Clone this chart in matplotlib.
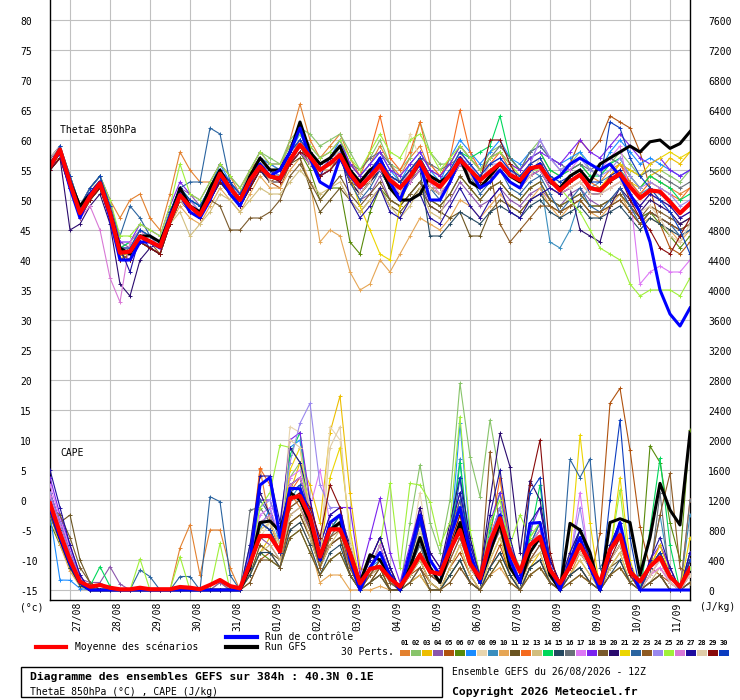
import matplotlib
matplotlib.use("Agg")
import matplotlib.pyplot as plt
import numpy as np
from matplotlib.lines import Line2D
from matplotlib.patches import Rectangle
from matplotlib.transforms import blended_transform_factory

W, H = 740, 700
MONO = "DejaVu Sans Mono"

# 6-hourly steps from 26/08 12Z to 11/09 12Z (384h)
steps = np.arange(65)
day_steps = np.arange(2, 64, 4)
day_labels = ["27/08", "28/08", "29/08", "30/08", "31/08", "01/09", "02/09", "03/09",
              "04/09", "05/09", "06/09", "07/09", "08/09", "09/09", "10/09", "11/09"]
theta_ticks = list(range(-15, 81, 5))
cape_ticks = list(range(0, 7601, 400))

member_colors = ["#e3812f", "#88c46a", "#edbe00", "#8b55ab", "#b0520e", "#588a0a",
                 "#1a8cff", "#e8d5ae", "#3a8ebe", "#e6a655", "#6a5420", "#f56a1e",
                 "#d2be7e", "#00d85a", "#244860", "#687078", "#dd78f5", "#7a22ee",
                 "#7a5a2c", "#2a0a6e", "#ecd500", "#2a64a0", "#8e5a22", "#9a88ee",
                 "#a0f03a", "#d878d6", "#1e0c9e", "#e0cca8", "#880a0a", "#0a3cc0"]

# ThetaE 850hPa (degC)
theta_mean = [55.6, 58.4, 52.8, 47.8, 50.6, 52.8, 47.8, 41.2, 41.4, 43.9,
              43.1, 42.2, 46.7, 50.8, 48.9, 47.5, 50.6, 54.4, 52.0, 50.0,
              53.3, 55.6, 53.9, 53.6, 56.7, 59.2, 57.2, 55.0, 56.1, 57.5,
              54.4, 52.2, 53.9, 55.8, 53.3, 52.0, 53.9, 56.4, 53.3, 52.2,
              54.2, 56.7, 55.0, 53.3, 54.7, 56.1, 54.2, 53.3, 55.3, 55.6,
              53.3, 51.6, 53.1, 54.2, 52.0, 51.6, 53.3, 54.4, 52.2, 50.3,
              51.6, 51.4, 49.7, 47.8, 49.4]
theta_ctrl = [56, 58, 52, 47, 51, 53, 47, 40, 40, 43, 43, 42, 47, 51, 48, 47, 50, 54, 51, 49,
              53, 56, 54, 55, 58, 62, 57, 53, 52, 57, 54, 52, 54, 57, 53, 50, 54, 56, 50, 50,
              53, 57, 55, 52, 53, 55, 53, 52, 55, 56, 53, 54, 56, 57, 56, 55, 56, 54, 51, 48,
              43, 35, 31, 29, 32]
theta_gfs = [56, 58, 53, 49, 51, 53, 48, 42, 41, 44, 44, 43, 47, 52, 49, 48, 52, 55, 52, 50,
             54, 57, 55, 55, 58, 63, 58, 56, 57, 59, 55, 53, 55, 56, 52, 50, 50, 51, 54, 53,
             54, 57, 53, 52, 54, 56, 54, 53, 55, 56, 53, 52, 54, 55, 53, 56, 57, 58, 59, 58,
             59.7, 60, 58.6, 59.4, 61.4]
theta_perts = [
    [57, 59, 54, 49, 52, 54, 50, 47, 50, 51, 47, 45, 51, 58, 55, 53, 53, 56, 54, 51, 55, 57, 56, 55, 60, 66, 60, 57, 59, 61, 57, 54, 56, 59, 56, 54, 57, 59, 55, 54, 56, 59, 57, 55, 57, 58, 56, 55, 57, 58, 55, 54, 55, 56, 54, 53, 55, 56, 54, 52, 54, 53, 52, 51, 52],
    [55, 58, 52, 48, 50, 53, 48, 42, 43, 45, 44, 43, 48, 52, 50, 49, 52, 55, 53, 51, 55, 58, 57, 56, 60, 62, 61, 59, 60, 61, 58, 55, 57, 60, 56, 55, 57, 63, 58, 56, 56, 59, 57, 55, 58, 59, 57, 55, 58, 60, 57, 55, 56, 58, 55, 54, 56, 58, 56, 54, 55, 55, 54, 53, 55],
    [56, 57, 53, 49, 51, 52, 47, 40, 42, 43, 42, 41, 46, 50, 48, 47, 50, 53, 51, 49, 52, 55, 53, 53, 56, 58, 56, 54, 55, 57, 53, 51, 53, 55, 52, 51, 53, 55, 52, 51, 53, 56, 54, 52, 54, 55, 53, 52, 54, 55, 52, 51, 52, 53, 51, 51, 53, 55, 53, 52, 54, 55, 57, 56, 58],
    [57, 58, 54, 49, 52, 54, 49, 43, 42, 45, 44, 43, 48, 52, 51, 49, 52, 55, 53, 51, 54, 57, 55, 55, 58, 60, 58, 56, 57, 59, 53, 50, 51, 54, 50, 49, 51, 53, 49, 48, 50, 53, 51, 49, 50, 52, 50, 49, 51, 52, 50, 49, 51, 52, 50, 49, 50, 52, 49, 47, 48, 47, 46, 45, 46],
    [55, 58, 52, 47, 50, 52, 47, 41, 40, 43, 42, 41, 46, 50, 48, 47, 50, 53, 51, 49, 52, 55, 53, 52, 56, 58, 56, 54, 55, 57, 53, 51, 53, 55, 52, 51, 53, 55, 52, 51, 53, 56, 54, 52, 54, 55, 53, 52, 54, 55, 53, 54, 56, 60, 58, 60, 64, 63, 62, 58, 52, 46, 42, 41, 43],
    [56, 58, 53, 48, 51, 53, 48, 42, 42, 45, 44, 43, 47, 51, 49, 48, 51, 54, 52, 50, 53, 56, 54, 53, 56, 58, 55, 50, 52, 52, 43, 41, 48, 52, 50, 49, 51, 53, 50, 49, 51, 54, 52, 50, 52, 53, 51, 50, 52, 53, 50, 49, 50, 51, 49, 49, 50, 51, 49, 47, 48, 46, 44, 42, 44],
    [56, 59, 54, 49, 52, 54, 49, 42, 42, 45, 44, 43, 48, 52, 50, 49, 52, 56, 53, 51, 54, 57, 56, 55, 58, 61, 58, 56, 57, 60, 56, 54, 56, 58, 55, 53, 56, 58, 55, 53, 57, 60, 58, 56, 58, 60, 57, 56, 58, 59, 57, 56, 57, 58, 56, 55, 58, 60, 58, 56, 57, 56, 55, 54, 55],
    [55, 58, 53, 48, 51, 52, 48, 42, 41, 44, 43, 42, 47, 51, 49, 48, 51, 55, 52, 50, 53, 56, 54, 54, 57, 59, 57, 55, 56, 58, 55, 53, 55, 57, 54, 53, 61, 57, 54, 52, 54, 57, 55, 53, 55, 56, 54, 53, 55, 56, 53, 52, 53, 54, 52, 52, 53, 54, 52, 50, 52, 50, 49, 47, 48],
    [55, 58, 52, 48, 51, 53, 47, 40, 40, 43, 42, 41, 46, 50, 48, 47, 50, 53, 51, 49, 52, 55, 53, 53, 56, 58, 56, 54, 55, 57, 55, 53, 55, 57, 54, 53, 55, 57, 54, 53, 55, 58, 56, 54, 56, 57, 55, 54, 55, 54, 43, 42, 45, 50, 52, 53, 54, 55, 53, 51, 52, 51, 50, 48, 49],
    [55, 57, 52, 48, 50, 52, 47, 40, 40, 43, 42, 41, 46, 49, 47, 46, 49, 52, 50, 48, 51, 54, 52, 52, 55, 57, 53, 43, 45, 44, 38, 35, 36, 40, 38, 41, 44, 47, 46, 45, 47, 50, 49, 47, 49, 51, 49, 48, 50, 52, 49, 47, 49, 50, 48, 47, 49, 51, 48, 46, 47, 46, 45, 43, 45],
    [55, 57, 52, 47, 50, 52, 47, 41, 40, 43, 42, 41, 46, 50, 48, 47, 50, 53, 51, 49, 52, 55, 53, 53, 56, 57, 52, 48, 50, 52, 50, 48, 50, 52, 49, 48, 50, 52, 49, 48, 47, 48, 44, 44, 48, 50, 49, 48, 50, 51, 49, 48, 49, 50, 48, 48, 49, 50, 48, 46, 48, 47, 46, 45, 46],
    [55, 58, 52, 47, 50, 52, 47, 40, 41, 43, 42, 41, 46, 50, 48, 47, 50, 54, 51, 49, 53, 56, 54, 53, 57, 60, 58, 56, 57, 59, 56, 54, 58, 64, 57, 55, 58, 63, 56, 54, 57, 65, 58, 55, 56, 58, 55, 54, 56, 57, 54, 52, 54, 55, 53, 52, 54, 56, 53, 51, 53, 52, 51, 50, 52],
    [56, 58, 53, 48, 51, 53, 48, 42, 42, 44, 43, 42, 46, 48, 44, 46, 48, 51, 50, 48, 50, 52, 51, 51, 53, 55, 53, 51, 52, 53, 50, 48, 50, 52, 49, 47, 49, 52, 48, 47, 53, 56, 54, 52, 54, 55, 53, 52, 54, 55, 52, 51, 52, 53, 51, 51, 52, 53, 51, 49, 51, 50, 49, 48, 49],
    [57, 59, 54, 49, 52, 54, 49, 42, 43, 45, 44, 43, 48, 52, 50, 49, 52, 55, 53, 51, 54, 57, 55, 55, 58, 60, 58, 56, 57, 59, 55, 53, 55, 57, 54, 53, 55, 57, 54, 53, 55, 58, 57, 58, 59, 64, 57, 55, 57, 58, 55, 54, 55, 56, 54, 54, 56, 57, 54, 52, 54, 53, 52, 50, 51],
    [55, 57, 52, 48, 50, 52, 47, 41, 41, 43, 42, 41, 46, 50, 48, 47, 50, 53, 51, 49, 52, 55, 53, 53, 56, 58, 56, 54, 55, 57, 53, 51, 53, 55, 52, 51, 53, 55, 44, 44, 46, 48, 47, 46, 48, 49, 48, 47, 49, 50, 48, 47, 48, 49, 47, 47, 48, 49, 47, 45, 47, 46, 45, 44, 45],
    [56, 58, 54, 49, 51, 53, 48, 41, 42, 44, 44, 43, 48, 51, 50, 48, 51, 55, 52, 50, 54, 56, 55, 54, 58, 60, 57, 56, 57, 58, 56, 55, 57, 58, 56, 53, 54, 57, 56, 55, 56, 57, 54, 54, 57, 59, 57, 55, 58, 59, 57, 56, 55, 56, 55, 56, 57, 56, 55, 54, 55, 54, 53, 52, 53],
    [56, 58, 53, 48, 51, 53, 49, 42, 41, 44, 43, 42, 47, 51, 50, 48, 51, 55, 53, 51, 54, 57, 55, 55, 58, 60, 58, 56, 57, 58, 55, 53, 55, 57, 54, 52, 55, 57, 54, 52, 55, 58, 56, 54, 56, 57, 55, 54, 56, 60, 57, 55, 55, 57, 56, 55, 57, 59, 51, 36, 38, 39, 38, 38, 40],
    [57, 59, 54, 49, 52, 54, 50, 43, 43, 46, 45, 44, 49, 53, 51, 50, 53, 56, 54, 52, 55, 58, 56, 56, 59, 62, 59, 57, 58, 60, 56, 54, 56, 58, 55, 54, 56, 58, 55, 54, 56, 59, 57, 55, 57, 58, 56, 55, 57, 58, 57, 56, 58, 60, 58, 57, 59, 61, 59, 57, 56, 57, 55, 54, 55],
    [55, 57, 52, 47, 50, 52, 47, 40, 40, 43, 42, 41, 46, 50, 48, 47, 50, 49, 45, 45, 47, 47, 48, 50, 54, 56, 53, 50, 52, 54, 51, 49, 51, 53, 50, 49, 51, 53, 50, 49, 51, 54, 52, 50, 52, 53, 51, 50, 52, 53, 50, 49, 50, 51, 49, 49, 50, 51, 49, 47, 49, 48, 47, 46, 47],
    [55, 57, 45, 46, 49, 51, 46, 36, 34, 40, 42, 41, 46, 50, 48, 47, 50, 53, 51, 49, 52, 55, 53, 53, 56, 58, 56, 54, 55, 57, 53, 51, 53, 55, 52, 51, 53, 55, 52, 51, 53, 56, 54, 52, 54, 55, 53, 52, 54, 55, 52, 51, 52, 45, 44, 43, 49, 52, 50, 48, 50, 49, 48, 46, 47],
    [56, 58, 53, 48, 51, 53, 48, 41, 41, 44, 43, 42, 47, 51, 49, 48, 51, 54, 52, 50, 53, 56, 54, 54, 57, 59, 57, 55, 56, 58, 54, 49, 45, 41, 40, 49, 54, 56, 53, 52, 54, 57, 55, 53, 55, 56, 54, 53, 55, 56, 53, 52, 53, 54, 52, 52, 54, 56, 55, 54, 56, 57, 58, 57, 58],
    [55, 58, 53, 48, 52, 54, 49, 44, 49, 47, 44, 42, 47, 52, 53, 53, 62, 61, 53, 50, 54, 56, 55, 54, 57, 59, 56, 54, 55, 57, 53, 50, 52, 55, 52, 50, 53, 55, 52, 50, 53, 56, 54, 51, 53, 55, 52, 51, 53, 54, 51, 48, 50, 52, 49, 48, 50, 52, 49, 46, 48, 47, 46, 44, 45],
    [55, 58, 52, 47, 50, 53, 47, 40, 41, 43, 43, 41, 46, 50, 49, 47, 50, 54, 51, 50, 52, 56, 53, 54, 56, 59, 56, 55, 55, 58, 53, 52, 53, 56, 52, 52, 53, 56, 52, 52, 54, 57, 55, 53, 55, 46, 43, 45, 47, 49, 49, 48, 49, 50, 48, 48, 49, 50, 48, 46, 48, 47, 46, 45, 46],
    [56, 58, 53, 49, 51, 53, 48, 42, 42, 44, 44, 42, 47, 51, 50, 48, 51, 55, 52, 51, 54, 56, 55, 54, 58, 59, 57, 55, 57, 58, 55, 52, 55, 56, 54, 52, 55, 56, 54, 52, 55, 57, 56, 53, 56, 56, 55, 53, 56, 60, 57, 55, 56, 57, 55, 54, 55, 57, 54, 52, 53, 52, 51, 49, 50],
    [56, 59, 54, 49, 52, 54, 50, 44, 44, 46, 45, 44, 49, 56, 51, 50, 53, 56, 54, 52, 55, 58, 56, 56, 59, 61, 59, 57, 58, 60, 57, 55, 58, 61, 58, 57, 60, 61, 58, 55, 57, 59, 57, 55, 57, 58, 56, 54, 55, 55, 53, 52, 50, 48, 45, 42, 41, 40, 36, 34, 35, 35, 35, 34, 37],
    [55, 58, 52, 47, 49, 45, 37, 33, 43, 45, 43, 42, 47, 51, 49, 48, 51, 54, 52, 50, 53, 55, 54, 53, 56, 58, 56, 54, 55, 57, 54, 52, 54, 55, 53, 51, 53, 55, 53, 51, 53, 56, 54, 52, 54, 55, 53, 52, 54, 55, 52, 51, 52, 53, 51, 51, 52, 53, 51, 49, 51, 50, 49, 47, 48],
    [55, 58, 53, 48, 51, 53, 48, 42, 38, 44, 42, 43, 48, 52, 48, 47, 52, 55, 53, 49, 52, 57, 55, 53, 58, 60, 56, 54, 57, 59, 50, 47, 49, 52, 48, 47, 50, 51, 47, 46, 49, 52, 49, 47, 50, 52, 48, 47, 50, 51, 52, 51, 54, 55, 51, 51, 54, 55, 51, 49, 51, 50, 49, 47, 48],
    [57, 59, 53, 49, 52, 53, 49, 42, 42, 45, 44, 43, 48, 50, 48, 47, 52, 55, 51, 50, 54, 57, 53, 53, 58, 60, 56, 55, 55, 59, 55, 51, 53, 57, 54, 51, 55, 57, 52, 51, 55, 58, 54, 52, 56, 55, 53, 52, 54, 57, 54, 53, 52, 53, 51, 51, 52, 53, 51, 48, 49, 47, 44, 43, 46],
    [55, 57, 52, 48, 50, 52, 47, 40, 40, 43, 42, 41, 46, 51, 48, 47, 50, 53, 52, 49, 52, 55, 54, 53, 56, 58, 57, 54, 55, 57, 55, 53, 55, 57, 54, 53, 55, 57, 54, 53, 54, 57, 55, 53, 60, 60, 56, 53, 55, 56, 53, 52, 53, 54, 52, 52, 53, 54, 50, 47, 45, 42, 41, 44, 47],
    [56, 59, 54, 49, 52, 54, 49, 42, 42, 45, 44, 43, 48, 52, 50, 49, 52, 55, 53, 51, 54, 57, 55, 55, 58, 60, 58, 56, 57, 59, 55, 53, 55, 57, 54, 53, 55, 57, 54, 53, 55, 58, 56, 54, 56, 57, 55, 54, 56, 57, 54, 53, 54, 55, 53, 53, 63, 62, 57, 54, 52, 50, 48, 45, 41],
]

# CAPE (J/kg)
cape_mean = [1156, 756, 400, 111, 44, 67, 30, 9, 9, 30, 10, 10, 10, 40, 30, 10, 67, 133, 53, 22,
             356, 720, 720, 511, 1222, 1253, 978, 444, 809, 809, 489, 89, 280, 311, 156, 44, 244, 467, 244, 213,
             533, 800, 356, 156, 644, 956, 511, 244, 600, 711, 267, 89, 311, 600, 356, 89, 533, 733, 244, 111,
             311, 436, 178, 44, 289]
cape_ctrl = [1100, 700, 350, 100, 0, 0, 0, 0, 0, 0, 0, 0, 0, 0, 0, 0, 0, 0, 0, 0,
             400, 1400, 1500, 700, 1356, 1350, 1000, 400, 900, 1000, 400, 0, 300, 500, 200, 0, 500, 1000, 400, 200,
             700, 1100, 500, 100, 600, 1000, 400, 100, 889, 900, 300, 0, 400, 700, 300, 0, 500, 900, 300, 0,
             0, 0, 0, 0, 0]
cape_gfs = [1100, 700, 350, 100, 0, 0, 0, 0, 0, 0, 0, 0, 0, 0, 0, 0, 0, 0, 0, 0,
            300, 900, 920, 780, 1300, 1200, 900, 400, 800, 900, 500, 100, 470, 400, 200, 0, 300, 700, 300, 100,
            500, 900, 400, 100, 500, 900, 300, 100, 500, 700, 200, 0, 889, 800, 500, 0, 900, 950, 900, 200,
            700, 1422, 1067, 867, 2100]
cape_perts = [
    [1200, 800, 450, 150, 20, 0, 0, 0, 0, 0, 0, 0, 0, 560, 870, 200, 800, 800, 300, 0, 300, 1620, 900, 500, 1300, 1100, 800, 300, 700, 900, 300, 0, 200, 400, 100, 0, 300, 600, 200, 100, 500, 900, 300, 100, 600, 800, 300, 100, 500, 700, 200, 0, 200, 500, 300, 0, 400, 600, 200, 0, 200, 300, 100, 0, 300],
    [1100, 700, 350, 80, 0, 0, 0, 0, 0, 0, 0, 0, 0, 0, 0, 0, 0, 100, 0, 0, 400, 900, 1000, 700, 1500, 1700, 1100, 300, 900, 800, 400, 0, 300, 600, 200, 0, 900, 1667, 900, 500, 1200, 2756, 1778, 1244, 2267, 1500, 600, 300, 700, 900, 300, 0, 400, 800, 400, 0, 500, 800, 200, 0, 300, 500, 200, 0, 400],
    [1000, 650, 300, 60, 0, 0, 0, 0, 0, 0, 0, 0, 0, 0, 0, 0, 0, 0, 0, 0, 200, 500, 700, 500, 1300, 1700, 1400, 900, 2100, 2587, 1289, 300, 200, 300, 0, 0, 200, 400, 100, 0, 300, 600, 200, 0, 400, 700, 200, 0, 300, 500, 100, 0, 200, 400, 200, 0, 300, 500, 100, 0, 100, 200, 0, 0, 200],
    [1300, 900, 500, 150, 100, 100, 311, 80, 0, 0, 0, 0, 0, 0, 0, 0, 0, 100, 0, 0, 300, 700, 600, 400, 1000, 1100, 800, 400, 600, 700, 300, 50, 200, 300, 100, 0, 200, 500, 200, 100, 400, 700, 300, 100, 500, 800, 400, 100, 400, 600, 200, 0, 300, 500, 300, 0, 400, 600, 200, 0, 200, 400, 100, 0, 200],
    [1100, 750, 400, 100, 0, 0, 0, 0, 0, 0, 0, 0, 0, 0, 0, 0, 0, 0, 0, 0, 100, 400, 500, 300, 900, 1000, 700, 300, 600, 700, 200, 0, 100, 300, 0, 0, 200, 300, 100, 0, 300, 500, 200, 0, 300, 600, 200, 0, 300, 400, 100, 0, 200, 300, 100, 756, 2489, 2689, 1867, 844, 300, 200, 100, 0, 100],
    [900, 600, 300, 50, 0, 0, 0, 0, 0, 0, 0, 0, 0, 0, 0, 0, 0, 0, 0, 0, 200, 500, 400, 300, 700, 800, 500, 200, 400, 500, 200, 0, 100, 200, 0, 0, 100, 200, 0, 0, 200, 400, 100, 0, 200, 400, 100, 0, 200, 300, 100, 0, 100, 200, 100, 0, 200, 300, 100, 200, 1920, 1700, 900, 400, 2133],
    [1000, 133, 130, 20, 0, 0, 0, 0, 0, 0, 0, 0, 0, 0, 0, 0, 0, 0, 0, 0, 300, 800, 1100, 600, 1900, 2000, 900, 400, 800, 900, 400, 0, 300, 400, 100, 0, 300, 600, 300, 100, 600, 2222, 700, 100, 700, 1000, 400, 100, 600, 800, 300, 0, 300, 600, 300, 0, 500, 700, 200, 0, 300, 500, 200, 0, 300],
    [1200, 800, 400, 120, 0, 0, 0, 0, 0, 0, 0, 0, 0, 0, 0, 0, 0, 0, 0, 0, 400, 700, 900, 600, 2178, 2100, 1200, 500, 2178, 2000, 700, 100, 300, 500, 200, 0, 500, 1300, 400, 200, 700, 1000, 400, 100, 600, 900, 400, 100, 500, 700, 200, 0, 300, 500, 300, 0, 400, 600, 200, 0, 200, 300, 100, 0, 200],
    [1100, 700, 350, 100, 0, 0, 0, 0, 0, 0, 0, 0, 0, 0, 0, 0, 0, 0, 0, 0, 300, 900, 800, 500, 1200, 1400, 1000, 400, 800, 1000, 400, 0, 200, 400, 100, 0, 300, 800, 400, 200, 700, 1750, 500, 100, 600, 1000, 400, 100, 600, 900, 300, 0, 500, 800, 400, 0, 500, 800, 200, 0, 300, 1000, 200, 0, 1000],
    [1000, 600, 250, 50, 0, 0, 0, 0, 0, 0, 0, 0, 0, 0, 0, 0, 0, 0, 0, 0, 200, 600, 500, 300, 800, 900, 600, 100, 200, 200, 0, 0, 0, 50, 0, 0, 100, 200, 0, 0, 100, 300, 100, 0, 200, 300, 100, 0, 200, 300, 100, 0, 100, 200, 100, 0, 200, 300, 100, 0, 100, 200, 0, 0, 100],
    [1100, 900, 1000, 400, 100, 0, 0, 0, 0, 0, 0, 0, 0, 0, 0, 0, 0, 0, 0, 0, 200, 600, 500, 400, 900, 1000, 700, 300, 600, 700, 200, 0, 100, 300, 0, 0, 200, 400, 100, 0, 200, 400, 100, 0, 300, 500, 200, 0, 300, 400, 100, 0, 200, 300, 100, 0, 300, 400, 100, 0, 100, 200, 0, 0, 100],
    [1200, 850, 450, 130, 0, 0, 0, 0, 0, 0, 0, 0, 0, 0, 0, 0, 0, 0, 0, 0, 500, 1622, 1400, 700, 1300, 1500, 1000, 500, 900, 1000, 500, 100, 400, 700, 300, 0, 400, 1000, 400, 200, 800, 1200, 500, 100, 700, 1500, 500, 200, 600, 800, 300, 0, 400, 700, 300, 0, 500, 800, 300, 0, 300, 600, 300, 0, 1200],
    [1000, 700, 350, 80, 0, 0, 0, 0, 0, 0, 0, 0, 0, 0, 0, 0, 0, 0, 0, 0, 200, 500, 600, 400, 1000, 1100, 700, 300, 600, 800, 300, 0, 200, 300, 100, 0, 200, 400, 100, 0, 300, 600, 200, 0, 400, 700, 300, 0, 400, 500, 100, 0, 200, 400, 200, 0, 300, 500, 100, 0, 100, 300, 100, 0, 200],
    [1100, 750, 400, 120, 50, 311, 50, 0, 0, 0, 0, 0, 0, 0, 0, 0, 0, 0, 0, 0, 300, 900, 800, 500, 1800, 2100, 1000, 400, 800, 1000, 400, 0, 300, 600, 200, 0, 500, 1000, 400, 200, 600, 1700, 500, 100, 800, 1300, 500, 100, 700, 1400, 300, 0, 400, 800, 400, 0, 600, 900, 300, 0, 800, 1756, 600, 0, 500],
    [1000, 650, 300, 60, 0, 0, 0, 0, 0, 0, 0, 0, 0, 0, 0, 0, 0, 0, 0, 0, 200, 500, 500, 300, 800, 900, 600, 200, 500, 600, 200, 0, 100, 200, 0, 0, 100, 300, 0, 0, 200, 400, 100, 0, 300, 500, 200, 0, 300, 400, 100, 0, 200, 300, 100, 0, 200, 400, 100, 0, 100, 200, 0, 0, 100],
    [1050, 700, 350, 90, 0, 0, 0, 0, 0, 0, 0, 0, 0, 0, 0, 0, 0, 0, 0, 0, 1067, 1100, 900, 600, 1100, 1200, 900, 400, 700, 900, 400, 0, 200, 400, 100, 0, 300, 600, 200, 100, 500, 900, 300, 100, 500, 800, 300, 100, 500, 700, 200, 0, 300, 500, 300, 0, 400, 600, 200, 0, 200, 1300, 100, 0, 1200],
    [1400, 950, 550, 180, 0, 0, 0, 0, 0, 0, 0, 0, 0, 0, 0, 0, 0, 0, 0, 0, 400, 1000, 1100, 700, 1500, 1600, 1100, 1600, 900, 1000, 500, 100, 300, 600, 200, 0, 400, 900, 400, 200, 700, 1100, 500, 100, 700, 1100, 500, 100, 600, 800, 300, 0, 400, 1300, 300, 0, 500, 700, 200, 0, 200, 300, 100, 0, 200],
    [1500, 1000, 600, 200, 0, 0, 0, 0, 0, 0, 0, 0, 0, 0, 0, 0, 0, 0, 0, 0, 500, 1200, 1200, 800, 2000, 2100, 1200, 600, 1000, 1100, 1100, 200, 700, 1222, 500, 100, 600, 1100, 500, 300, 800, 1300, 600, 200, 900, 1300, 600, 200, 800, 1100, 400, 100, 500, 800, 400, 0, 600, 900, 300, 0, 400, 600, 300, 0, 500],
    [1100, 1000, 700, 300, 100, 0, 0, 0, 0, 0, 0, 0, 0, 0, 0, 0, 0, 0, 0, 0, 100, 400, 400, 300, 700, 800, 500, 200, 400, 500, 200, 0, 100, 200, 0, 0, 100, 300, 0, 0, 100, 300, 100, 0, 200, 400, 100, 0, 200, 300, 100, 0, 100, 200, 100, 0, 200, 300, 100, 0, 100, 200, 0, 0, 100],
    [1300, 900, 500, 150, 0, 0, 0, 0, 0, 0, 0, 0, 0, 0, 0, 0, 0, 0, 0, 0, 400, 1300, 1000, 700, 1400, 1500, 1100, 500, 900, 1000, 600, 100, 400, 700, 300, 0, 500, 1100, 500, 300, 900, 1500, 700, 200, 1200, 2089, 1644, 500, 1460, 1200, 400, 100, 400, 800, 400, 0, 500, 800, 300, 0, 300, 500, 200, 0, 400],
    [1200, 800, 450, 140, 0, 0, 0, 0, 0, 0, 0, 0, 0, 0, 0, 0, 0, 0, 0, 0, 300, 800, 900, 600, 1600, 1900, 1000, 400, 1500, 1900, 800, 100, 300, 500, 200, 0, 400, 800, 300, 100, 600, 1000, 400, 100, 600, 1000, 400, 100, 600, 800, 300, 0, 500, 2067, 900, 0, 500, 1500, 400, 0, 300, 600, 200, 0, 700],
    [1200, 800, 450, 130, 0, 0, 0, 0, 0, 267, 178, 0, 0, 180, 180, 0, 1244, 1178, 200, 0, 600, 1200, 1000, 700, 1400, 1500, 1000, 500, 800, 1000, 400, 0, 300, 500, 200, 0, 400, 900, 400, 200, 700, 1200, 500, 100, 700, 1100, 500, 100, 600, 900, 300, 0, 1742, 1500, 1750, 300, 500, 800, 300, 0, 300, 500, 200, 0, 400],
    [1000, 700, 350, 100, 0, 0, 0, 0, 0, 0, 0, 0, 0, 0, 0, 0, 0, 0, 0, 0, 300, 700, 700, 500, 1100, 1200, 800, 300, 700, 800, 300, 0, 200, 400, 100, 0, 300, 500, 200, 100, 400, 700, 300, 100, 1844, 800, 300, 100, 400, 600, 200, 0, 300, 500, 300, 0, 400, 600, 200, 0, 300, 1000, 1556, 300, 200],
    [1300, 900, 500, 160, 0, 0, 0, 0, 0, 0, 0, 0, 0, 0, 0, 0, 0, 0, 0, 0, 500, 1100, 1200, 800, 1700, 2222, 2489, 1400, 1100, 1100, 500, 100, 300, 600, 200, 0, 400, 900, 400, 200, 700, 1100, 500, 100, 700, 1100, 500, 100, 600, 800, 300, 0, 400, 1100, 300, 0, 500, 800, 200, 0, 300, 500, 200, 0, 300],
    [1150, 750, 400, 100, 0, 0, 0, 0, 0, 413, 0, 0, 0, 444, 0, 0, 0, 622, 0, 0, 400, 1100, 1300, 1933, 1900, 1700, 1000, 400, 800, 900, 400, 0, 300, 600, 1422, 300, 1422, 1400, 1178, 600, 900, 2311, 800, 200, 900, 1200, 600, 1000, 700, 900, 300, 0, 400, 700, 300, 0, 500, 1333, 200, 0, 300, 500, 200, 0, 300],
    [1250, 850, 450, 150, 0, 0, 0, 0, 0, 0, 0, 0, 0, 0, 0, 0, 0, 0, 0, 0, 400, 900, 1000, 700, 1400, 1500, 1100, 500, 900, 1000, 500, 100, 300, 600, 200, 0, 400, 900, 400, 200, 700, 1100, 500, 100, 700, 1000, 400, 100, 600, 800, 300, 0, 400, 700, 300, 0, 500, 700, 200, 0, 200, 400, 100, 0, 200],
    [1600, 1100, 600, 200, 0, 0, 0, 0, 0, 0, 0, 0, 0, 0, 0, 0, 0, 0, 0, 0, 600, 1520, 1520, 900, 1900, 1700, 1200, 600, 1000, 1100, 500, 100, 400, 700, 300, 0, 500, 1000, 400, 200, 800, 1300, 600, 200, 1000, 1600, 700, 200, 900, 1100, 400, 100, 500, 800, 400, 0, 600, 900, 300, 0, 400, 700, 300, 0, 500],
    [1150, 800, 400, 110, 0, 0, 0, 0, 0, 0, 0, 0, 0, 0, 0, 0, 0, 0, 0, 0, 300, 800, 900, 600, 2000, 1900, 1100, 400, 1900, 2178, 600, 100, 300, 500, 200, 0, 400, 800, 300, 100, 500, 900, 300, 100, 500, 900, 300, 100, 500, 700, 200, 0, 300, 500, 300, 0, 400, 600, 200, 0, 200, 400, 100, 0, 200],
    [1100, 750, 400, 120, 0, 0, 0, 0, 0, 0, 0, 0, 0, 0, 0, 0, 0, 0, 0, 0, 300, 900, 800, 500, 1200, 1300, 1100, 700, 1400, 1100, 400, 0, 300, 500, 200, 0, 400, 900, 400, 200, 600, 1000, 400, 100, 600, 1000, 400, 100, 1400, 2000, 500, 0, 300, 600, 300, 0, 400, 700, 200, 0, 300, 500, 200, 0, 400],
    [1150, 800, 400, 130, 0, 0, 0, 0, 0, 0, 0, 0, 0, 0, 0, 0, 0, 0, 0, 0, 300, 900, 800, 500, 1300, 1400, 900, 400, 800, 900, 400, 0, 300, 500, 200, 0, 400, 900, 400, 200, 600, 1500, 400, 100, 600, 1000, 400, 100, 1300, 1500, 300, 0, 400, 700, 300, 0, 1200, 2267, 700, 0, 300, 500, 200, 0, 400],
]


def fx(px):
    return px / W


def fy(py):
    return 1 - py / H


fig = plt.figure(figsize=(W / 100, H / 100), dpi=100)
fig.patch.set_facecolor("white")
ax = fig.add_axes([fx(50), fy(600), 640 / W, 600 / H])
ax2 = ax.twinx()

ax.set_xlim(0, 64)
ax.set_ylim(-15 - 10 / 6, 80 + 20 / 6)
# CAPE scale: 400 J/kg per 5 degC gridline, 0 J/kg on the -15 line
ax2.set_ylim((ax.get_ylim()[0] + 15) * 80, (ax.get_ylim()[1] + 15) * 80)

ax.set_xticks(day_steps)
ax.set_yticks(theta_ticks)
ax.tick_params(length=0, labelbottom=False, labelleft=False)
ax2.set_yticks([])
ax.grid(True, color="#c0c0c0", lw=0.8)
ax.set_axisbelow(True)
ax.spines["top"].set_visible(False)
for side in ("left", "right", "bottom"):
    ax.spines[side].set_color("black")
    ax.spines[side].set_linewidth(1.0)
for sp in ax2.spines.values():
    sp.set_visible(False)

pert_style = dict(lw=0.8, marker="+", ms=3.5, mew=0.7)
for color, vals in zip(member_colors, theta_perts):
    ax.plot(steps, vals, color=color, **pert_style)
ax.plot(steps, theta_gfs, color="black", lw=2.2)
ax.plot(steps, theta_ctrl, color="#0000ff", lw=2.2)
ax.plot(steps, theta_mean, color="#ff0000", lw=3.0)

for color, vals in zip(member_colors, cape_perts):
    ax2.plot(steps, vals, color=color, **pert_style)
ax2.plot(steps, cape_gfs, color="black", lw=2.2)
ax2.plot(steps, cape_ctrl, color="#0000ff", lw=2.2)
ax2.plot(steps, cape_mean, color="#ff0000", lw=3.0)

txt = dict(family=MONO, fontsize=7, color="black")
ax.text(10 / 640, 1 - 130 / 600, "ThetaE 850hPa", transform=ax.transAxes, va="center", **txt)
ax.text(10 / 640, 1 - 453 / 600, "CAPE", transform=ax.transAxes, va="center", **txt)

# axis labels
left_tr = blended_transform_factory(fig.transFigure, ax.transData)
for v in theta_ticks:
    ax.text(fx(20), v - 0.3, str(v), transform=left_tr, ha="left", va="center", **txt)
right_tr = blended_transform_factory(fig.transFigure, ax2.transData)
for v in cape_ticks:
    ax2.text(fx(708), v - 25, str(v), transform=right_tr, ha="left", va="center", **txt)
fig.text(fx(20), fy(607), "(°c)", ha="left", va="center", **txt)
fig.text(fx(700), fy(607), "(J/kg)", ha="left", va="center", **txt)

bottom_tr = blended_transform_factory(ax.transData, fig.transFigure)
for s, lab in zip(day_steps, day_labels):
    ax.text(s + 0.7, fy(602), lab, transform=bottom_tr, rotation=90,
            ha="center", va="top", **txt)

# legend
fig.add_artist(Line2D([fx(36), fx(66)], [fy(647), fy(647)], color="#ff0000", lw=3))
fig.text(fx(75), fy(647), "Moyenne des scénarios", va="center", **txt)
fig.add_artist(Line2D([fx(226), fx(257)], [fy(637), fy(637)], color="#0000ff", lw=3))
fig.text(fx(265), fy(637), "Run de contrôle", va="center", **txt)
fig.add_artist(Line2D([fx(226), fx(257)], [fy(647), fy(647)], color="black", lw=3))
fig.text(fx(265), fy(647), "Run GFS", va="center", **txt)
fig.text(fx(341), fy(652), "30 Perts.", va="center", **txt)
for k, color in enumerate(member_colors):
    x0 = 400 + 11 * k
    fig.add_artist(Rectangle((fx(x0), fy(656)), 9.7 / W, 6 / H, facecolor=color,
                             edgecolor="none", transform=fig.transFigure))
    fig.text(fx(x0 + 4.8), fy(643), f"{k + 1:02d}", ha="center", va="center",
             family=MONO, fontsize=5, weight="bold")

# title box
fig.add_artist(Rectangle((fx(20.5), fy(697)), 422 / W, 30 / H, fill=False,
                         edgecolor="black", lw=1, transform=fig.transFigure))
fig.text(fx(30), fy(677), "Diagramme des ensembles GEFS sur 384h : 40.3N 0.1E",
         va="center", family=MONO, fontsize=8.2, weight="bold")
fig.text(fx(30), fy(692), "ThetaE 850hPa (°C) , CAPE (J/kg)", va="center", **txt)
fig.text(fx(452), fy(672), "Ensemble GEFS du 26/08/2026 - 12Z", va="center", **txt)
fig.text(fx(452), fy(692), "Copyright 2026 Meteociel.fr", va="center",
         family=MONO, fontsize=8.2, weight="bold")

fig.savefig("out.png", dpi=100, facecolor="white")
